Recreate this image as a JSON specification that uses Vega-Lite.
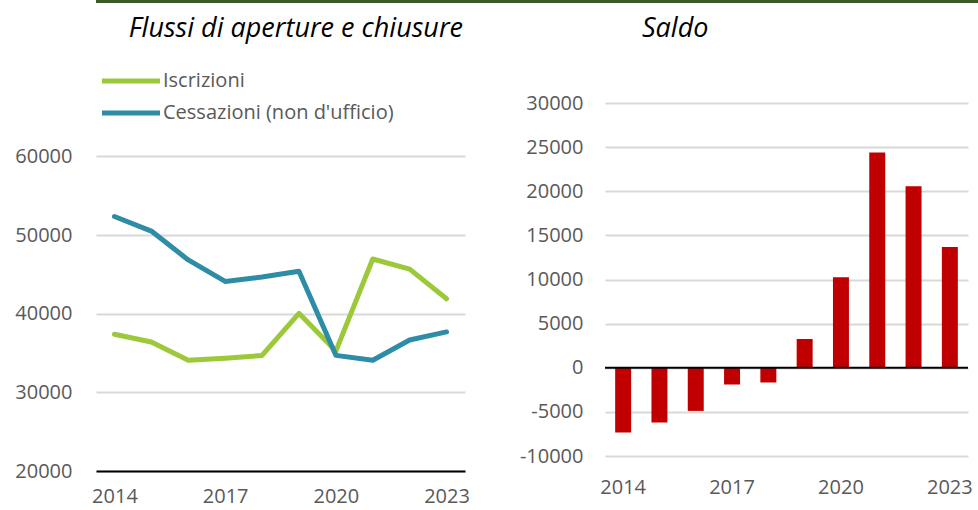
{
  "$schema": "https://vega.github.io/schema/vega-lite/v6.json",
  "padding": 0,
  "background": "white",
  "config": {
    "view": {"stroke": null},
    "font": "Open Sans",
    "axis": {"labelFont": "Open Sans", "labelColor": "#595959", "labelFontSize": 20, "titleFont": "Open Sans"},
    "legend": {"labelFont": "Open Sans"},
    "title": {"font": "Open Sans"}
  },
  "datasets": {
    "flussi": [
      {"anno": "2014", "serie": "Iscrizioni", "valore": 37380},
      {"anno": "2015", "serie": "Iscrizioni", "valore": 36400},
      {"anno": "2016", "serie": "Iscrizioni", "valore": 34080},
      {"anno": "2017", "serie": "Iscrizioni", "valore": 34340},
      {"anno": "2018", "serie": "Iscrizioni", "valore": 34690},
      {"anno": "2019", "serie": "Iscrizioni", "valore": 40040},
      {"anno": "2020", "serie": "Iscrizioni", "valore": 35240},
      {"anno": "2021", "serie": "Iscrizioni", "valore": 46950},
      {"anno": "2022", "serie": "Iscrizioni", "valore": 45660},
      {"anno": "2023", "serie": "Iscrizioni", "valore": 41890},
      {"anno": "2014", "serie": "Cessazioni (non d'ufficio)", "valore": 52350},
      {"anno": "2015", "serie": "Cessazioni (non d'ufficio)", "valore": 50500},
      {"anno": "2016", "serie": "Cessazioni (non d'ufficio)", "valore": 46830},
      {"anno": "2017", "serie": "Cessazioni (non d'ufficio)", "valore": 44100},
      {"anno": "2018", "serie": "Cessazioni (non d'ufficio)", "valore": 44670},
      {"anno": "2019", "serie": "Cessazioni (non d'ufficio)", "valore": 45400},
      {"anno": "2020", "serie": "Cessazioni (non d'ufficio)", "valore": 34700},
      {"anno": "2021", "serie": "Cessazioni (non d'ufficio)", "valore": 34080},
      {"anno": "2022", "serie": "Cessazioni (non d'ufficio)", "valore": 36650},
      {"anno": "2023", "serie": "Cessazioni (non d'ufficio)", "valore": 37680}
    ],
    "saldo": [
      {"anno": "2014", "saldo": -7350},
      {"anno": "2015", "saldo": -6210},
      {"anno": "2016", "saldo": -4890},
      {"anno": "2017", "saldo": -1890},
      {"anno": "2018", "saldo": -1670},
      {"anno": "2019", "saldo": 3260},
      {"anno": "2020", "saldo": 10260},
      {"anno": "2021", "saldo": 24400},
      {"anno": "2022", "saldo": 20570},
      {"anno": "2023", "saldo": 13670}
    ]
  },
  "spacing": 12,
  "vconcat": [
    {
      "data": {"values": [{"k": 1}]},
      "width": 882,
      "height": 3,
      "mark": {"type": "rect", "color": "#3c5a28"},
      "encoding": {}
    },
    {
      "spacing": 43,
      "hconcat": [
        {
          "data": {"name": "flussi"},
          "width": 369,
          "height": 368,
          "title": {"text": "Flussi di aperture e chiusure", "fontSize": 27, "fontStyle": "italic", "fontWeight": "normal", "color": "black", "anchor": "end", "frame": "group", "dx": -2, "offset": 60},
          "mark": {"type": "line", "strokeWidth": 5, "strokeCap": "round", "strokeJoin": "round"},
          "encoding": {
            "x": {"field": "anno", "type": "ordinal", "sort": null, "title": null,
              "scale": {"type": "point", "padding": 0.5},
              "axis": {"values": ["2014", "2017", "2020", "2023"], "labelAngle": 0, "ticks": false, "domainColor": "black", "domainWidth": 2, "labelPadding": 15, "grid": false}},
            "y": {"field": "valore", "type": "quantitative", "title": null,
              "scale": {"domain": [20000, 66780], "nice": false, "zero": false},
              "axis": {"values": [20000, 30000, 40000, 50000, 60000], "labelExpr": "'' + datum.value", "domain": false, "ticks": false, "labelPadding": 24, "minExtent": 96, "grid": true, "gridColor": "#d9d9d9", "gridWidth": 2}},
            "color": {"field": "serie", "type": "nominal", "title": null,
              "scale": {"domain": ["Iscrizioni", "Cessazioni (non d'ufficio)"], "range": ["#9bc93a", "#2f8ca6"]},
              "legend": {"orient": "none", "legendX": 18, "legendY": 64, "direction": "vertical", "symbolType": "M-2,0H2", "symbolSize": 841, "symbolStrokeWidth": 5, "labelFontSize": 20, "labelColor": "#595959", "labelOffset": 15, "rowPadding": 5, "labelLimit": 400}}
          }
        },
        {
          "width": 363,
          "height": 353,
          "title": {"text": "Saldo", "fontSize": 27, "fontStyle": "italic", "fontWeight": "normal", "color": "black", "anchor": "start", "frame": "group", "dx": 37, "offset": 50},
          "layer": [
            {
              "data": {"name": "saldo"},
              "mark": {"type": "bar", "color": "#c00000"},
              "encoding": {
                "x": {"field": "anno", "type": "ordinal", "sort": null, "title": null,
                  "scale": {"paddingInner": 0.56, "paddingOuter": 0.28},
                  "axis": {"values": ["2014", "2017", "2020", "2023"], "labelAngle": 0, "ticks": false, "domain": false, "labelPadding": 21, "grid": false}},
                "y": {"field": "saldo", "type": "quantitative", "title": null,
                  "scale": {"domain": [-10000, 30000], "nice": false},
                  "axis": {"values": [-10000, -5000, 0, 5000, 10000, 15000, 20000, 25000, 30000], "labelExpr": "datum.value < 0 ? '-' + (-datum.value) : '' + datum.value", "domain": false, "ticks": false, "labelPadding": 22, "minExtent": 92, "grid": true, "gridColor": "#d9d9d9", "gridWidth": 2}}
              }
            },
            {
              "data": {"values": [{"zero": 0}]},
              "mark": {"type": "rule", "color": "black", "strokeWidth": 2},
              "encoding": {"y": {"field": "zero", "type": "quantitative"}}
            }
          ]
        }
      ]
    }
  ]
}
